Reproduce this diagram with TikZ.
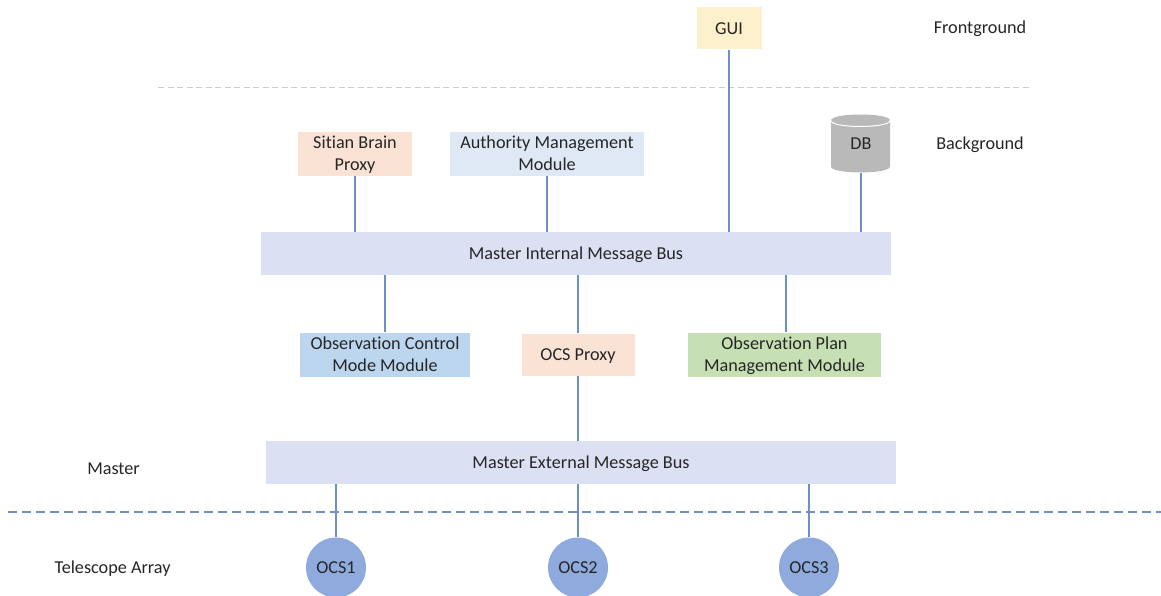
\documentclass[tikz,border=0pt]{standalone}
\usepackage{fontspec}
\setmainfont[Ligatures=NoCommon]{Carlito}
\definecolor{linkc}{HTML}{6F8FCB}
\definecolor{textc}{HTML}{262626}
\definecolor{busc}{HTML}{DCE0F3}
\definecolor{guic}{HTML}{FDF0CC}
\definecolor{sbc}{HTML}{FAE3D5}
\definecolor{authc}{HTML}{DFE8F5}
\definecolor{ctrlc}{HTML}{BBD6EE}
\definecolor{planc}{HTML}{C6E0B4}
\definecolor{ocsc}{HTML}{8FAADC}
\definecolor{dbc}{HTML}{B9B9B9}
\newcommand{\tx}[1]{\raisebox{-1.2pt}[\height][\depth]{\begin{tabular}{@{}c@{}}#1\end{tabular}}}
\tikzset{
  every node/.style={font=\fontsize{18.2}{22}\selectfont, text=textc},
  box/.style={rectangle, fill=#1, inner sep=0pt},
  ocs/.style={circle, fill=ocsc, minimum size=60pt, inner sep=0pt},
  link/.style={draw=linkc, line width=1.5pt},
  lbl/.style={inner sep=0pt}
}
\begin{document}
\begin{tikzpicture}[x=1pt,y=-1pt]
\useasboundingbox (0,0) rectangle (1161,596);
% separators
\coordinate (sepAl) at (158,87.5);
\coordinate (sepAr) at (1032,87.5);
\coordinate (sepBl) at (8,512);
\coordinate (sepBr) at (1161,512);
\draw[draw=black!20, line width=0.9pt, dash pattern=on 6pt off 3.5pt] (sepAl) -- (sepAr);
\draw[draw=linkc, line width=1.3pt, dash pattern=on 9pt off 5pt] (sepBl) -- (sepBr);
% boxes
\node[box=guic, minimum width=65pt, minimum height=42pt] (gui) at (729,28.5) {\tx{GUI}};
\node[box=sbc, minimum width=113.5pt, minimum height=42pt] (sb) at (355,153.6) {\tx{Sitian Brain\\Proxy}};
\node[box=authc, minimum width=193.5pt, minimum height=42pt] (auth) at (547,153.6) {\tx{Authority Management\\Module}};
\node[box=busc, minimum width=630pt, minimum height=43pt] (ibus) at (576,253.5) {\tx{Master Internal Message Bus}};
\node[box=ctrlc, minimum width=169.5pt, minimum height=42pt] (ctrl) at (385,354.6) {\tx{Observation Control\\Mode Module}};
\node[box=sbc, minimum width=113pt, minimum height=42pt] (proxy) at (578,354.6) {\tx{OCS Proxy}};
\node[box=planc, minimum width=193pt, minimum height=42pt] (plan) at (784.5,354.6) {\tx{Observation Plan\\Management Module}};
\node[box=busc, minimum width=630pt, minimum height=43pt] (ebus) at (581,462.5) {\tx{Master External Message Bus}};
% database
\fill[dbc] (831,120.5) .. controls (831,112.5) and (890,112.5) .. (890,120.5) -- (890,166.5) .. controls (890,174.5) and (831,174.5) .. (831,166.5) -- cycle;
\draw[white, line width=1pt] (831,120.5) .. controls (831,128.5) and (890,128.5) .. (890,120.5);
\node[lbl, minimum width=59pt, minimum height=59pt] (db) at (861,143.5) {\tx{DB}};
% OCS
\node[ocs] (o1) at (336,567.5) {\tx{OCS1}};
\node[ocs] (o2) at (578,567.5) {\tx{OCS2}};
\node[ocs] (o3) at (809,567.5) {\tx{OCS3}};
% connectors
\draw[link] (gui.south) -- (gui.south |- ibus.north);
\draw[link] (sb.south) -- (sb.south |- ibus.north);
\draw[link] (auth.south) -- (auth.south |- ibus.north);
\draw[link] (db.south) -- (db.south |- ibus.north);
\draw[link] (ctrl.north) -- (ctrl.north |- ibus.south);
\draw[link] (proxy.north) -- (proxy.north |- ibus.south);
\draw[link] ([xshift=1.5pt]plan.north) -- ([xshift=1.5pt]plan.north |- ibus.south);
\draw[link] (proxy.south) -- (proxy.south |- ebus.north);
\draw[link] (o1.north) -- (o1.north |- ebus.south);
\draw[link] (o2.north) -- (o2.north |- ebus.south);
\draw[link] (o3.north) -- (o3.north |- ebus.south);
% side labels
\node[lbl] (fg) at (980,28) {\tx{Frontground}};
\node[lbl] (bg) at (980,144) {\tx{Background}};
\node[lbl] (ma) at (113.5,468.5) {\tx{Master}};
\node[lbl] (ta) at (112.5,568) {\tx{Telescope Array}};
\end{tikzpicture}
\end{document}
